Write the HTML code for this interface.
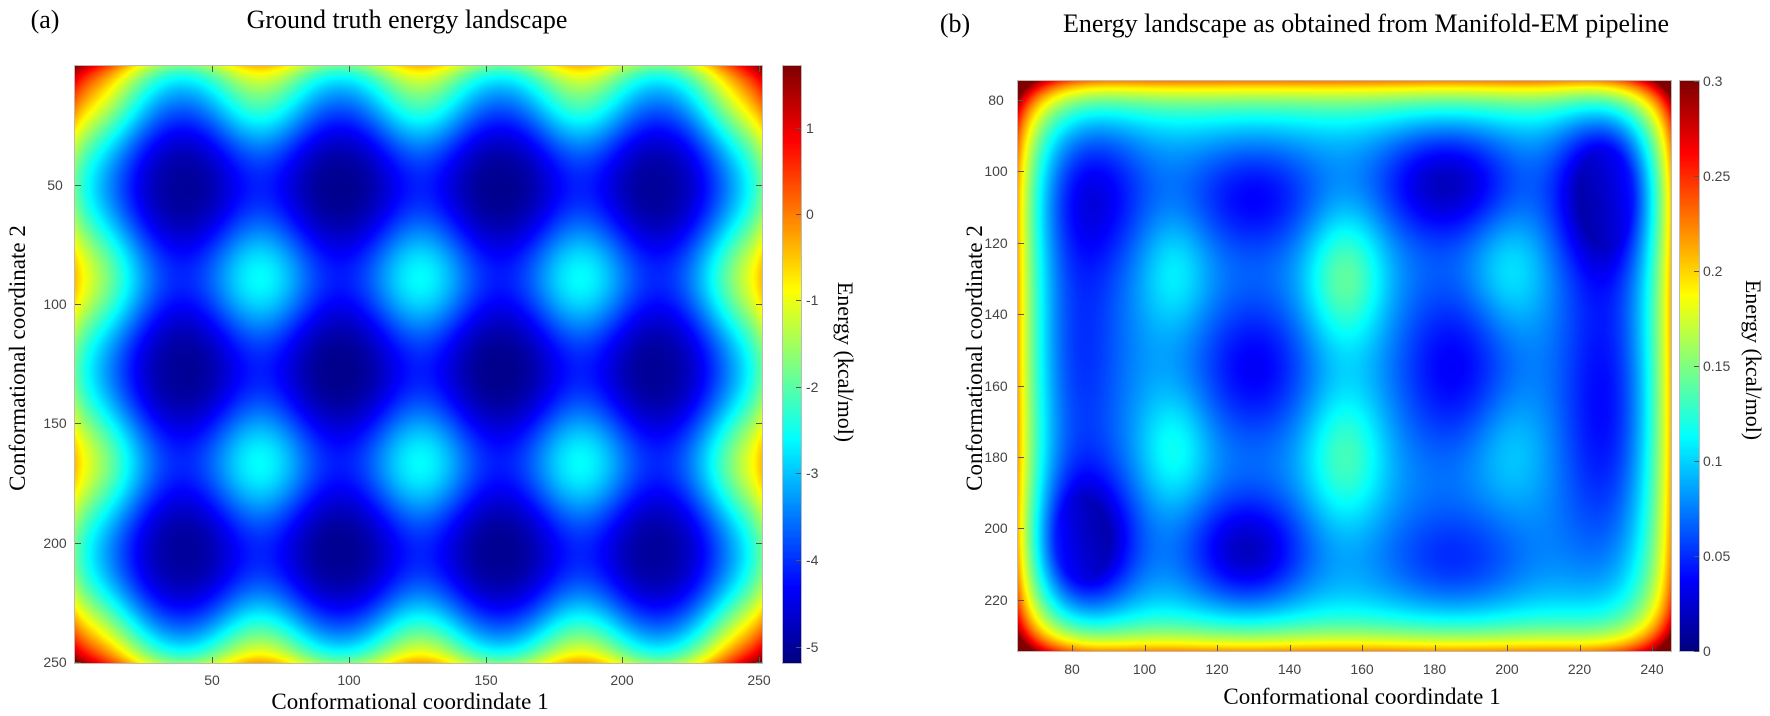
<!DOCTYPE html>
<html><head><meta charset="utf-8"><style>
body{margin:0;width:1770px;height:716px;background:#fff;position:relative;overflow:hidden;font-family:"Liberation Serif",serif}
.t{position:absolute;white-space:nowrap;transform:translate(-50%,-50%)}
.s{font-family:"Liberation Sans",sans-serif;font-size:14px;color:#444}
.r{transform:translate(-50%,-50%) rotate(-90deg)}
.rc{transform:translate(-50%,-50%) rotate(90deg)}
canvas{position:absolute}
.ax{position:absolute;border:1px solid #bbb;box-sizing:border-box}
.tk{position:absolute;background:#555}
</style></head><body>
<canvas id="c1" width="687" height="597" style="left:75px;top:66px"></canvas>
<canvas id="cb1" width="18" height="597" style="left:783px;top:66px"></canvas>
<canvas id="c2" width="653" height="570" style="left:1018px;top:81px"></canvas>
<canvas id="cb2" width="19" height="570" style="left:1680px;top:81px"></canvas>
<div class="ax" style="left:74px;top:65px;width:689px;height:599px"></div>
<div class="ax" style="left:782px;top:65px;width:20px;height:599px"></div>
<div class="ax" style="left:1017px;top:80px;width:655px;height:572px"></div>
<div class="ax" style="left:1679px;top:80px;width:21px;height:572px"></div>

<div class="t" style="left:45px;top:20px;font-size:26px">(a)</div>
<div class="t" style="left:407px;top:20px;font-size:26px">Ground truth energy landscape</div>
<div class="t" style="left:955px;top:24px;font-size:26px">(b)</div>
<div class="t" style="left:1366px;top:24px;font-size:26px">Energy landscape as obtained from Manifold-EM pipeline</div>

<div class="t" style="left:410px;top:702px;font-size:23px">Conformational coordindate 1</div>
<div class="t r" style="left:18px;top:358px;font-size:23px">Conformational coordinate 2</div>
<div class="t rc" style="left:845px;top:362px;font-size:22px">Energy (kcal/mol)</div>
<div class="t" style="left:1362px;top:697px;font-size:23px">Conformational coordindate 1</div>
<div class="t r" style="left:975px;top:358px;font-size:23px">Conformational coordinate 2</div>
<div class="t rc" style="left:1753px;top:360px;font-size:22px">Energy (kcal/mol)</div>
<div id="lbl"></div>
<script>
function jet(v){v=Math.max(0,Math.min(1,v));var r=Math.min(4*v-1.5,-4*v+4.5),g=Math.min(4*v-0.5,-4*v+3.5),b=Math.min(4*v+0.5,-4*v+2.5);
return [255*Math.max(0,Math.min(1,r)),255*Math.max(0,Math.min(1,g)),255*Math.max(0,Math.min(1,b))];}
function draw(id,w,h,f,lo,hi){var c=document.getElementById(id).getContext('2d');var im=c.createImageData(w,h);
for(var j=0;j<h;j++)for(var i=0;i<w;i++){var e=f(i,j);var col=jet((e-lo)/(hi-lo));var k=4*(j*w+i);im.data[k]=col[0];im.data[k+1]=col[1];im.data[k+2]=col[2];im.data[k+3]=255;}
c.putImageData(im,0,0);}
var P=2*Math.PI;
draw('c1',687,597,function(i,j){var x=i/687*250,y=j/597*250;var u=(x-38)/58.3*P,v=(y-50)/77.5*P;
var s=((1-Math.cos(u))/2+(1-Math.cos(v))/2)/2;var b=-5.1+2.5*Math.pow(s,1.4);
function W(t){return 2.5*(Math.exp(-t/11)+Math.exp(-(250-t)/11));}
return b+W(x)+W(y);},-5.18,1.71);
var G=[[83,205,10,14,.09],[80,150,10,35,.05],[85,105,12,15,.05],[130,107,14,12,.05],[130,155,12,15,.05],[128,207,12,12,.07],[183,103,14,12,.07],[185,155,12,18,.05],[185,210,15,12,.04],[227,105,10,16,.09],[228,165,10,35,.06],
[155,130,8,14,-.06],[155,180,8,14,-.05],[108,178,7,12,-.035],[108,128,7,12,-.03],[200,128,8,12,-.03],[200,178,8,12,-.02]];
draw('c2',653,570,function(i,j){var x=65+i/653*180,y=75+j/570*159.5;
var e=0.085;for(var k=0;k<G.length;k++){var g=G[k];var dx=(x-g[0])/g[2],dy=(y-g[1])/g[3];e-=g[4]*Math.exp(-(dx*dx+dy*dy)/2);}
e=Math.max(e,0.005);var L=8;e+=0.14*(Math.exp(-(x-65)/L)+Math.exp(-(245-x)/L)+Math.exp(-(y-75)/L)+Math.exp(-(234.5-y)/L));return e;},0,0.3);
draw('cb1',18,597,function(i,j){return 1-j/596;},0,1);
draw('cb2',19,570,function(i,j){return 1-j/569;},0,1);
var H='';function L(x,y,t,a){H+='<div class="t s" style="left:'+x+'px;top:'+y+'px'+(a?';transform:translate(0,-50%)':'')+'">'+t+'</div>';}
function T(x,y,w,h){H+='<div class="tk" style="left:'+x+'px;top:'+y+'px;width:'+w+'px;height:'+h+'px"></div>';}
[[50,212],[100,349],[150,486],[200,622],[250,759]].forEach(function(a){L(a[1],680,a[0]);T(a[1],657,1,6);T(a[1],66,1,6);});
[[50,185],[100,304],[150,423],[200,543],[250,662]].forEach(function(a){L(55,a[1],a[0]);T(75,a[1],6,1);T(756,a[1],6,1);});
[[1,127.5],[0,214],[-1,300],[-2,387],[-3,473],[-4,560],[-5,647]].forEach(function(a){L(806,a[1],a[0],1);T(796,a[1],5,1);});
for(var k=0;k<9;k++){var v=80+20*k,x=1072+72.5*k;L(x,669,v);T(x,645,1,6);}
for(var k=0;k<8;k++){var v=80+20*k,y=100+71.4*k;L(996,y,v);T(1018,y,6,1);}
[['0.3',81],['0.25',176],['0.2',271],['0.15',366],['0.1',461],['0.05',556],['0',651]].forEach(function(a){L(1703,a[1],a[0],1);T(1694,a[1],5,1);});
document.getElementById('lbl').innerHTML=H;
</script>
</body></html>
